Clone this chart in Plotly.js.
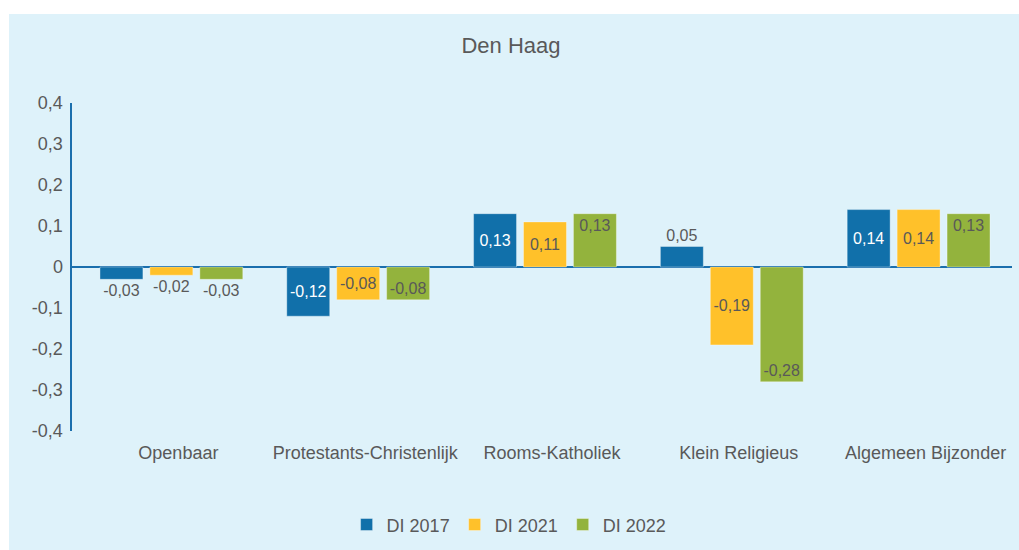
<!DOCTYPE html>
<html>
<head>
<meta charset="utf-8">
<script src="https://cdn.plot.ly/plotly-3.0.1.min.js"></script>
<style>
  html, body { margin: 0; padding: 0; background: #ffffff; }
  #chart { position: absolute; left: 9px; top: 14px; width: 1010px; height: 536px; }
</style>
</head>
<body>
<div id="chart"></div>
<script>
// ---- data ----
const categories = ["Openbaar", "Protestants-Christenlijk", "Rooms-Katholiek", "Klein Religieus", "Algemeen Bijzonder"];
const seriesNames = ["DI 2017", "DI 2021", "DI 2022"];
const di2017 = [-0.03, -0.12, 0.13, 0.05, 0.14];
const di2021 = [-0.02, -0.08, 0.11, -0.19, 0.14];
const di2022 = [-0.03, -0.08, 0.13, -0.28, 0.13];
const yTickVals = [-0.4, -0.3, -0.2, -0.1, 0, 0.1, 0.2, 0.3, 0.4];
const yTickText = ["-0,4", "-0,3", "-0,2", "-0,1", "0", "0,1", "0,2", "0,3", "0,4"];

// ---- style ----
const FONT = "Arial, 'Liberation Sans', sans-serif";
const TXT = "#595959";
const colors = ["#1170AA", "#FFC12A", "#93B33D"];
const insideColors = ["#FFFFFF", TXT, TXT];
const anchors = ["middle", "middle", "end"];
const seriesValues = [di2017, di2021, di2022];

const traces = seriesValues.map((vals, k) => ({
  type: "bar",
  name: seriesNames[k],
  x: categories,
  y: vals,
  marker: { color: colors[k], line: { color: "rgba(255,255,255,0.35)", width: 1 } },
  texttemplate: "%{y:.2f}",
  textposition: vals.map(v => Math.abs(v) < 0.06 ? "outside" : "inside"),
  insidetextanchor: anchors[k],
  insidetextfont: { family: FONT, size: 16, color: insideColors[k] },
  outsidetextfont: { family: FONT, size: 16, color: TXT },
  constraintext: "none",
  cliponaxis: false,
  hoverinfo: "skip"
}));

const layout = {
  width: 1010,
  height: 536,
  margin: { l: 63, r: 7, t: 89, b: 115 },
  paper_bgcolor: "#DEF2FA",
  plot_bgcolor: "#DEF2FA",
  separators: ",.",
  font: { family: FONT, color: TXT, size: 18 },
  title: {
    text: "Den Haag",
    font: { family: FONT, size: 22, color: TXT },
    x: 0.497, xref: "container", xanchor: "center",
    y: 0.942, yref: "container", yanchor: "middle"
  },
  barmode: "group",
  bargap: 0.198,
  bargroupgap: 0.14,
  xaxis: {
    type: "category",
    range: [-0.532, 4.5],
    showline: false,
    showgrid: false,
    zeroline: false,
    ticks: "",
    ticklabelstandoff: 9,
    ticklabelshift: 7,
    tickfont: { family: FONT, size: 18, color: TXT },
    fixedrange: true
  },
  yaxis: {
    range: [-0.4, 0.4],
    tickvals: yTickVals,
    ticktext: yTickText,
    showgrid: false,
    showline: true,
    linecolor: "#1A6FAD",
    linewidth: 2.5,
    zeroline: true,
    zerolinecolor: "#1A6FAD",
    zerolinewidth: 2.5,
    ticks: "",
    ticklabelstandoff: 3,
    tickfont: { family: FONT, size: 18, color: TXT },
    fixedrange: true
  },
  showlegend: true,
  legend: {
    orientation: "h",
    x: 0.465, xanchor: "center",
    y: -0.286, yanchor: "middle",
    font: { family: FONT, size: 18, color: TXT },
    bgcolor: "rgba(0,0,0,0)",
    traceorder: "normal"
  }
};

Plotly.newPlot("chart", traces, layout, { displayModeBar: false, staticPlot: true });
</script>
</body>
</html>
